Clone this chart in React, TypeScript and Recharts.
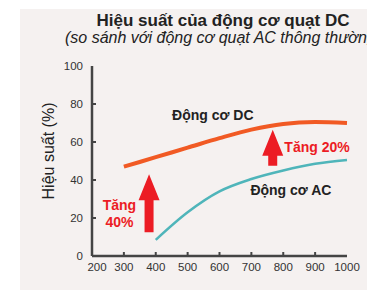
import React from 'react';
import { LineChart, Line, XAxis, YAxis, ReferenceDot } from 'recharts';

// fan speed (rpm) and efficiency (%)
const speeds = [300, 400, 500, 600, 700, 800, 900, 1000];
const dcEfficiency = [47, 52, 57, 62, 66.5, 69.5, 70.5, 70];
const acEfficiency = [null, 8.5, 23, 34, 40.5, 45, 48.5, 50.5];
const xTicks = [200, 300, 400, 500, 600, 700, 800, 900, 1000];
const yTicks = [0, 20, 40, 60, 80, 100];

const data = speeds.map((s, i) => ({ speed: s, dc: dcEfficiency[i], ac: acEfficiency[i] }));

const AXIS = '#444';
const RED = '#ec1c24';
const FONT = '"Liberation Sans", Arial, sans-serif';

const XTick = ({ x, y, payload }: any) => {
  const v = payload.value;
  const inner = v !== 200 && v !== 1000;
  return (
    <g>
      {inner && <line x1={x} y1={y} x2={x} y2={y - 4} stroke={AXIS} strokeWidth={2} />}
      <text x={v === 200 ? x + 5 : x} y={y + 15} textAnchor="middle" fontSize={11.5} fill="#333" fontFamily={FONT}>
        {v}
      </text>
    </g>
  );
};

const YTick = ({ x, y, payload }: any) => {
  const v = payload.value;
  const inner = v !== 0 && v !== 100;
  return (
    <g>
      {inner && <line x1={x} y1={y} x2={x + 4} y2={y} stroke={AXIS} strokeWidth={2} />}
      <text x={x - 9} y={y + 4} textAnchor="end" fontSize={11.5} fill="#333" fontFamily={FONT}>
        {v}
      </text>
    </g>
  );
};

const arrow = (head: number, len: number) => (p: any) => {
  const { cx, cy } = p;
  const hw = 10.5;
  const sw = 4.5;
  const pts = [
    [cx, cy],
    [cx + hw, cy + head],
    [cx + sw, cy + head],
    [cx + sw, cy + len],
    [cx - sw, cy + len],
    [cx - sw, cy + head],
    [cx - hw, cy + head],
  ];
  return <polygon points={pts.map((q) => q.join(',')).join(' ')} fill={RED} />;
};

const note = (text: string, color: string) => (p: any) => (
  <text
    x={p.cx}
    y={p.cy}
    textAnchor="middle"
    dominantBaseline="central"
    fontSize={14}
    fontWeight="bold"
    fill={color}
    fontFamily={FONT}
  >
    {text}
  </text>
);

export default function App() {
  return (
    <div style={{ position: 'absolute', left: 0, top: 0, width: 367, height: 293, background: '#fff', overflow: 'hidden' }}>
      <div style={{ position: 'absolute', left: 20, top: 9, width: 347, height: 281, background: '#f5f1f0' }} />
      <svg width={367} height={293} style={{ position: 'absolute', left: 0, top: 0 }}>
        <text x={223} y={26} textAnchor="middle" fontSize={17} fontWeight="bold" fill="#222" fontFamily={FONT}>
          Hiệu suất của động cơ quạt DC
        </text>
        <text x={65} y={43} fontSize={16} fontStyle="italic" fill="#222" fontFamily={FONT}>
          (so sánh với động cơ quạt AC thông thường)
        </text>
        <text
          transform="translate(48,151) rotate(-90)"
          textAnchor="middle"
          dominantBaseline="central"
          fontSize={16}
          fill="#222"
          fontFamily={FONT}
        >
          Hiệu suất (%)
        </text>
      </svg>
      <div style={{ position: 'absolute', left: 0, top: 0 }}>
        <LineChart width={367} height={293} data={data} margin={{ top: 66, right: 20, bottom: 36, left: 91 }}>
          <XAxis
            dataKey="speed"
            type="number"
            domain={[200, 1000]}
            ticks={xTicks}
            interval={0}
            height={1}
            tickSize={0}
            tickMargin={0}
            tick={<XTick />}
            axisLine={{ stroke: AXIS, strokeWidth: 2.5 }}
            tickLine={false}
          />
          <YAxis
            type="number"
            domain={[0, 100]}
            ticks={yTicks}
            interval={0}
            width={1}
            tickSize={0}
            tickMargin={0}
            tick={<YTick />}
            axisLine={{ stroke: AXIS, strokeWidth: 2.5 }}
            tickLine={false}
          />
          <Line
            dataKey="dc"
            type="monotone"
            stroke="#f15a24"
            strokeWidth={4}
            dot={false}
            isAnimationActive={false}
          />
          <Line
            dataKey="ac"
            type="monotone"
            stroke="#4fb5ba"
            strokeWidth={2.5}
            dot={false}
            isAnimationActive={false}
          />
          <ReferenceDot x={379} y={43} r={0} shape={arrow(26, 58)} />
          <ReferenceDot x={767} y={66.5} r={0} shape={arrow(26, 36)} />
          <ReferenceDot x={579} y={74.2} r={0} shape={note('Động cơ DC', '#222')} />
          <ReferenceDot x={824} y={34.7} r={0} shape={note('Động cơ AC', '#222')} />
          <ReferenceDot x={906} y={57.4} r={0} shape={note('Tăng 20%', RED)} />
          <ReferenceDot x={286} y={26.8} r={0} shape={note('Tăng', RED)} />
          <ReferenceDot x={286} y={17.9} r={0} shape={note('40%', RED)} />
        </LineChart>
      </div>
    </div>
  );
}
